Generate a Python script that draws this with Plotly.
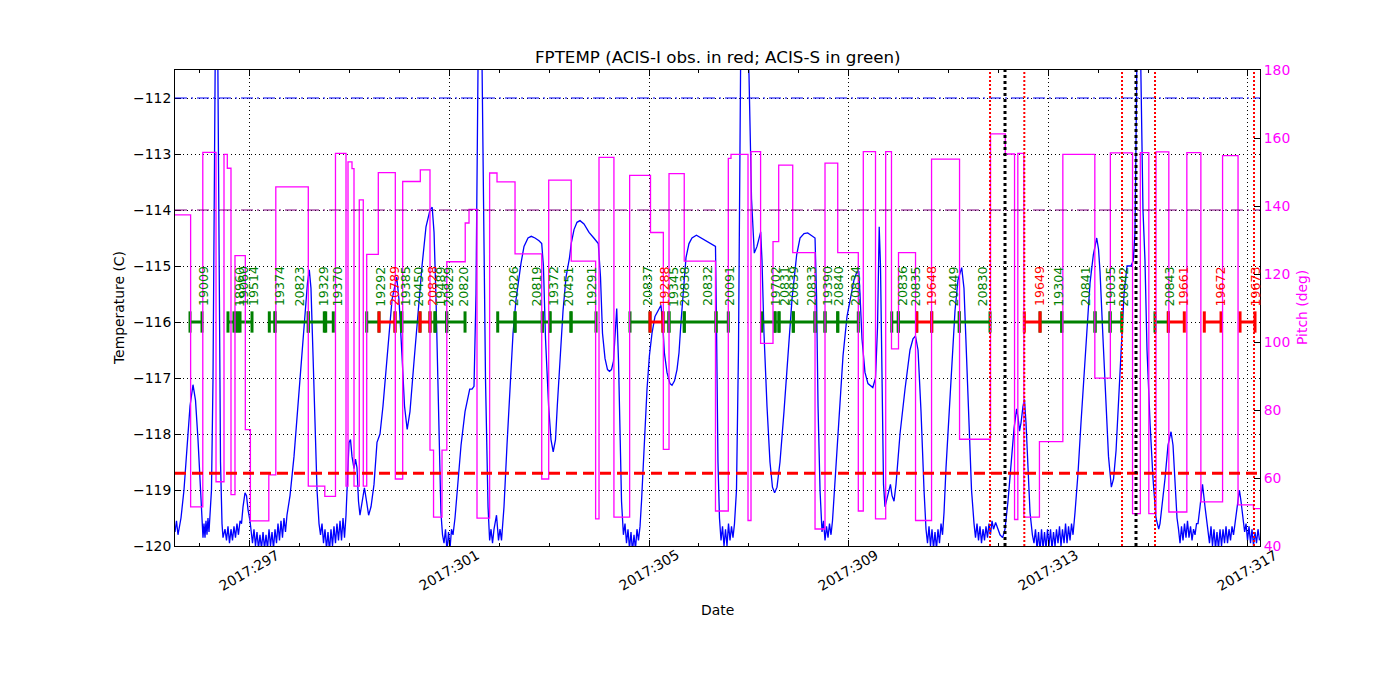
import plotly.graph_objects as go

# ---------------- data ----------------
temp_time = [
    295.500, 295.530, 295.560, 295.590, 295.620, 295.680, 295.740, 295.801, 295.861, 295.911,
    295.961, 296.001, 296.041, 296.061, 296.081, 296.101, 296.121, 296.141, 296.161, 296.181,
    296.201, 296.231, 296.262, 296.292, 296.312, 296.352, 296.382, 296.412, 296.442, 296.462,
    296.502, 296.532, 296.562, 296.592, 296.622, 296.652, 296.682, 296.712, 296.742, 296.772,
    296.803, 296.833, 296.863, 296.903, 296.933, 296.963, 297.003, 297.023,
    297.053, 297.083, 297.113, 297.143, 297.173, 297.203, 297.233, 297.264, 297.294, 297.324,
    297.354, 297.384, 297.414, 297.444, 297.474, 297.504, 297.534, 297.564, 297.594, 297.624,
    297.654, 297.684, 297.714, 297.744, 297.805, 297.885, 297.965, 298.045, 298.105, 298.155,
    298.191, 298.225, 298.266, 298.306, 298.346, 298.386, 298.416,
    298.446, 298.476, 298.506, 298.536, 298.566, 298.596, 298.626, 298.656, 298.686, 298.716,
    298.746, 298.776, 298.807, 298.837, 298.867, 298.897, 298.927, 298.957, 298.987, 299.017,
    299.047, 299.087, 299.117, 299.147, 299.177, 299.207, 299.247, 299.296, 299.338, 299.380,
    299.428, 299.488, 299.548, 299.608, 299.668, 299.769, 299.849, 299.943, 299.989, 300.049,
    300.099, 300.153, 300.209, 300.290, 300.370, 300.450, 300.530, 300.610, 300.654, 300.691,
    300.731, 300.781, 300.829, 300.861,
    300.891, 300.921, 300.951, 300.981, 301.011, 301.041, 301.071, 301.111, 301.172, 301.232,
    301.312, 301.406, 301.452, 301.492, 301.532, 301.562, 301.582, 301.642, 301.672, 301.722,
    301.773, 301.805, 301.833, 301.863, 301.893, 301.943, 301.983, 302.013, 302.043, 302.093,
    302.153, 302.213, 302.274, 302.334, 302.394, 302.434, 302.494, 302.574, 302.640, 302.714,
    302.795, 302.849, 302.883, 302.925, 302.987, 303.035, 303.079, 303.125, 303.161, 303.215,
    303.276, 303.336, 303.406, 303.440, 303.496, 303.556, 303.616, 303.696, 303.797, 303.893,
    303.937, 303.983, 304.027, 304.067, 304.117, 304.167, 304.207, 304.247, 304.287, 304.318,
    304.352, 304.388, 304.418, 304.448, 304.486,
    304.518, 304.548, 304.578, 304.608, 304.638, 304.668, 304.698, 304.728, 304.758, 304.788,
    304.819, 304.849, 304.899, 304.959, 305.007, 305.059, 305.119, 305.179, 305.239, 305.279,
    305.307, 305.359, 305.419, 305.460, 305.510, 305.560, 305.600, 305.640, 305.700, 305.740,
    305.800, 305.860, 305.949, 306.041, 306.141, 306.241, 306.331, 306.351, 306.381, 306.411,
    306.442, 306.472, 306.502, 306.532, 306.562, 306.592, 306.622, 306.652, 306.682, 306.712,
    306.752, 306.792, 306.822, 306.842, 306.953, 307.003, 307.053, 307.109, 307.163, 307.237,
    307.263, 307.303, 307.363, 307.423, 307.473, 307.516, 307.564, 307.624, 307.704, 307.784,
    307.864, 307.958, 308.025, 308.105, 308.179, 308.246, 308.326, 308.356, 308.386, 308.426,
    308.466, 308.496, 308.526, 308.556, 308.586, 308.616, 308.646, 308.676, 308.726, 308.806,
    308.887, 308.967, 309.047, 309.107, 309.167, 309.203, 309.227, 309.267, 309.327, 309.387,
    309.484, 309.538, 309.578, 309.612, 309.638, 309.668, 309.698, 309.728, 309.768, 309.809,
    309.837, 309.869, 309.909, 309.949, 310.029, 310.129, 310.229, 310.289, 310.339, 310.390,
    310.450, 310.510, 310.550,
    310.580, 310.610, 310.640, 310.670, 310.700, 310.730, 310.760, 310.790, 310.820, 310.851,
    310.881, 310.911, 310.951, 311.011, 311.071, 311.131, 311.191, 311.265, 311.311, 311.365,
    311.412, 311.462, 311.512,
    311.542, 311.572, 311.602, 311.632, 311.662, 311.692, 311.722, 311.752, 311.782, 311.812,
    311.842, 311.873, 311.903, 311.945, 311.993, 312.033, 312.085, 312.133, 312.193, 312.253,
    312.314, 312.366, 312.394, 312.424, 312.454, 312.494, 312.522, 312.554, 312.594, 312.634,
    312.682,
    312.714, 312.744, 312.775, 312.805, 312.835, 312.865, 312.895, 312.925, 312.955, 312.985,
    313.015, 313.045, 313.075, 313.105, 313.135, 313.165, 313.195, 313.225, 313.255, 313.285,
    313.316, 313.346, 313.376, 313.406, 313.436, 313.466, 313.496, 313.536, 313.596, 313.656,
    313.716, 313.776, 313.837, 313.903, 313.971, 314.007, 314.037, 314.097, 314.157, 314.207,
    314.264, 314.308, 314.358, 314.418, 314.478, 314.518, 314.578, 314.658, 314.704, 314.738,
    314.768, 314.784, 314.838, 314.868, 314.898, 314.938, 314.979, 315.039, 315.099, 315.159,
    315.213, 315.239, 315.279, 315.339, 315.400, 315.460, 315.500, 315.540, 315.580, 315.610,
    315.640, 315.670, 315.700, 315.730, 315.760, 315.790, 315.820, 315.851, 315.881, 315.911,
    315.941, 315.971, 316.001, 316.041, 316.091, 316.141, 316.197,
    316.231, 316.261, 316.291, 316.321, 316.351, 316.381, 316.411, 316.442, 316.472, 316.502,
    316.532, 316.562, 316.592, 316.622, 316.652, 316.682, 316.712, 316.742, 316.782, 316.830,
    316.862, 316.902, 316.935,
    316.963, 316.993, 317.023, 317.053, 317.083, 317.113, 317.143, 317.173, 317.203, 317.233,
]
temp_val = [
    -119.75, -119.55, -119.80, -119.60, -119.50, -119.00, -118.20, -117.50, -117.12, -117.40,
    -118.10, -118.90, -119.60, -119.85, -119.60, -119.85, -119.55, -119.80, -119.50, -119.75,
    -119.45, -119.00, -117.00, -112.50, -110.50, -110.50, -115.50, -118.50, -119.60, -119.85,
    -119.70, -119.90, -119.65, -119.95, -119.70, -119.90, -119.65, -119.85, -119.60, -119.80,
    -119.55, -119.60, -119.30, -119.05, -119.10, -119.35, -119.55, -119.70,
    -119.95, -119.70, -120.00, -119.75, -120.05, -119.80, -120.05, -119.75, -120.05, -119.80,
    -120.05, -119.70, -120.00, -119.75, -120.05, -119.70, -119.95, -119.60, -119.90, -119.55,
    -119.85, -119.50, -119.75, -119.45, -119.10, -118.40, -117.50, -116.60, -115.90, -115.30,
    -115.07, -115.40, -116.60, -118.00, -119.00, -119.60, -119.80,
    -119.60, -119.95, -119.70, -120.05, -119.75, -120.10, -119.70, -120.00, -119.65, -119.95,
    -119.60, -119.90, -119.55, -119.90, -119.50, -119.85, -119.45, -118.80, -118.15, -118.10,
    -118.40, -118.62, -118.45, -118.60, -119.20, -119.45, -119.20, -118.96, -119.20, -119.45,
    -119.30, -118.90, -118.15, -118.00, -117.50, -116.40, -115.60, -115.20, -115.60, -116.60,
    -117.50, -117.92, -117.60, -116.70, -115.80, -115.00, -114.30, -114.00, -113.95, -114.40,
    -115.60, -117.50, -119.40, -119.80,
    -119.95, -119.70, -120.10, -119.75, -120.05, -119.70, -119.80, -119.50, -118.90, -118.20,
    -117.60, -117.20, -117.20, -117.15, -115.50, -112.50, -110.50, -110.50, -113.50, -117.00,
    -119.30, -119.90, -119.70, -119.95, -119.70, -119.45, -119.90, -119.70, -119.90, -119.30,
    -118.20, -117.20, -116.20, -115.60, -115.20, -114.95, -114.65, -114.50, -114.47, -114.50,
    -114.55, -114.60, -115.00, -116.30, -117.50, -118.10, -118.32, -118.10, -117.50, -116.60,
    -115.80, -115.20, -114.85, -114.60, -114.35, -114.22, -114.19, -114.25, -114.40, -114.50,
    -114.55, -114.60, -115.20, -116.20, -116.65, -116.85, -116.88, -116.85, -116.70, -116.30,
    -115.76, -116.70, -118.00, -119.20, -119.80,
    -119.60, -119.95, -119.70, -120.05, -119.75, -120.10, -119.80, -120.05, -119.70, -119.90,
    -119.65, -119.20, -118.20, -117.20, -116.60, -116.20, -115.90, -115.80, -115.70, -116.10,
    -116.55, -116.90, -117.10, -117.13, -117.05, -116.85, -116.55, -116.00, -115.20, -114.85,
    -114.60, -114.50, -114.45, -114.50, -114.55, -114.60, -114.65, -116.00, -118.50, -119.50,
    -119.90, -119.65, -120.00, -119.70, -120.00, -119.60, -119.90, -119.65, -119.85, -119.60,
    -119.00, -116.50, -112.00, -110.50, -110.50, -111.60, -113.80, -114.77, -114.65, -114.39,
    -114.90, -116.20, -117.50, -118.50, -118.95, -119.05, -118.95, -118.50, -117.60, -116.50,
    -115.60, -114.80, -114.50, -114.42, -114.41, -114.45, -114.50, -115.50, -117.50, -119.00,
    -119.75, -119.55, -119.90, -119.65, -119.85, -119.60, -119.80, -119.55, -118.80, -117.60,
    -116.60, -115.90, -115.50, -115.25, -115.10, -115.10, -115.50, -116.30, -116.90, -117.10,
    -117.17, -117.00, -116.10, -114.30, -115.00, -117.50, -118.90, -119.30, -119.15, -118.95,
    -118.90, -119.10, -119.20, -118.90, -118.00, -117.20, -116.50, -116.30, -116.25, -116.50,
    -117.60, -119.00, -119.70,
    -119.95, -119.65, -120.00, -119.70, -120.05, -119.75, -120.05, -119.70, -119.95, -119.60,
    -119.80, -119.40, -118.60, -117.60, -116.60, -115.80, -115.25, -115.03, -115.40, -116.60,
    -117.90, -119.00, -119.60,
    -119.85, -119.60, -119.90, -119.65, -119.95, -119.70, -119.90, -119.65, -119.85, -119.60,
    -119.80, -119.55, -119.70, -119.58, -119.70, -119.80, -119.85, -119.70, -119.20, -118.60,
    -117.90, -117.55, -117.70, -117.95, -117.80, -117.50, -117.38, -117.80, -118.60, -119.40,
    -119.80,
    -119.95, -119.70, -120.05, -119.75, -120.10, -119.70, -120.05, -119.75, -120.05, -119.70,
    -120.00, -119.70, -120.05, -119.75, -120.00, -119.70, -119.95, -119.65, -120.00, -119.70,
    -119.95, -119.60, -119.95, -119.65, -119.90, -119.60, -119.80, -119.40, -118.70, -117.80,
    -116.90, -116.00, -115.30, -114.80, -114.50, -114.70, -115.10, -116.30, -117.40, -118.40,
    -118.95, -118.80, -118.30, -117.30, -116.20, -115.50, -115.00, -115.00, -114.90, -114.40,
    -112.00, -110.50, -110.50, -112.50, -114.00, -114.90, -116.50, -117.80, -118.80, -119.50,
    -119.70, -119.60, -119.30, -118.80, -118.20, -117.96, -118.20, -118.90, -119.50, -119.70,
    -119.95, -119.65, -119.90, -119.60, -119.85, -119.55, -119.85, -119.65, -119.90, -119.70,
    -119.80, -119.60, -119.60, -119.30, -118.90, -119.30, -119.75,
    -119.95, -119.65, -120.00, -119.70, -120.05, -119.75, -120.05, -119.70, -120.00, -119.70,
    -119.95, -119.65, -119.95, -119.70, -119.90, -119.65, -119.80, -119.60, -119.30, -119.00,
    -119.20, -119.55, -119.75,
    -119.60, -119.90, -119.65, -119.95, -119.70, -120.00, -119.75, -119.95, -119.70, -119.90,
]

# pitch: time at which each level starts (last entry = end of data)
pitch_time = [
    295.500, 295.813, 296.057, 296.322, 296.482, 296.548, 296.622, 296.702, 296.909, 297.011,
    297.380, 297.520, 298.171, 298.502, 298.716, 298.927, 298.967, 299.047, 299.087, 299.193,
    299.273, 299.342, 299.574, 299.915, 300.063, 300.416, 300.610, 300.681, 300.851, 300.947,
    301.316, 301.392, 301.552, 301.805, 301.953, 302.314, 302.849, 302.989, 303.440, 303.929,
    303.997, 304.296, 304.611, 305.029, 305.286, 305.400, 305.705, 306.331, 306.588, 306.642,
    306.983, 307.043, 307.235, 307.484, 307.598, 307.879, 308.326, 308.526, 308.781, 309.193,
    309.293, 309.538, 309.742, 309.858, 309.999, 310.340, 310.661, 311.222, 311.843, 312.139,
    312.324, 312.390, 312.511, 312.823, 313.292, 313.933, 314.244, 314.689, 314.845, 315.015,
    315.159, 315.416, 315.777, 316.058, 316.493, 316.803, 317.112, 317.243,
]
pitch_val = [
    137.4, 51.5, 155.8, 58.9, 155.2, 151.1, 55.1, 125.4, 74.2, 47.4,
    60.9, 145.6, 57.6, 54.6, 155.5, 57.6, 153.0, 151.0, 57.6, 141.8,
    57.6, 125.8, 149.8, 59.7, 147.2, 150.6, 68.2, 48.5, 68.2, 123.6,
    135.0, 139.0, 48.2, 149.7, 147.1, 125.9, 59.7, 147.6, 123.8, 48.0,
    154.3, 48.5, 149.0, 132.2, 68.4, 149.5, 123.8, 50.3, 154.0, 155.2,
    47.5, 156.0, 99.6, 129.5, 152.0, 126.3, 45.0, 152.6, 126.3, 50.3,
    156.0, 48.0, 156.0, 98.0, 126.3, 47.5, 153.8, 71.4, 161.2, 155.3,
    47.8, 155.5, 48.5, 70.7, 155.2, 89.4, 155.6, 49.5, 155.7, 49.5,
    155.9, 50.0, 155.7, 53.0, 154.8, 52.1, 51.0, 51.0,
]

obs_id = [
    "19009", "18960", "19060", "19514", "19374", "20823", "19329", "19370", "19292", "20789",
    "19385", "20450", "20828", "19489", "20829", "20820", "20826", "20819", "19372", "20451",
    "19291", "20837", "19288", "19345", "20838", "20832", "20091", "19702", "20831", "20839",
    "20833", "19390", "20840", "20834", "20836", "20835", "19648", "20449", "20830", "19649",
    "19304", "20841", "19035", "20842", "20843", "19661", "19672", "19673",
]
obs_start = [
    295.801, 296.562, 296.682, 296.803, 297.390, 297.504, 298.171, 298.520, 299.342, 299.588,
    299.909, 300.043, 300.410, 300.610, 300.711, 300.945, 301.967, 302.314, 302.861, 303.015,
    303.436, 304.618, 305.019, 305.279, 305.399, 305.706, 306.342, 307.257, 307.524, 307.604,
    307.891, 308.326, 308.526, 308.781, 309.863, 309.995, 310.364, 310.664, 311.217, 312.520,
    312.835, 313.270, 313.937, 314.238, 315.139, 315.406, 316.127, 316.843,
]
obs_stop = [
    296.041, 296.722, 296.763, 297.043, 297.504, 298.171, 298.492, 298.672, 299.588, 299.909,
    300.043, 300.410, 300.610, 300.711, 300.945, 301.312, 302.314, 302.861, 303.015, 303.436,
    303.937, 305.019, 305.279, 305.399, 305.706, 306.342, 306.588, 307.524, 307.604, 307.891,
    308.326, 308.526, 308.781, 309.193, 309.995, 310.364, 310.664, 311.217, 311.833, 312.835,
    313.270, 313.937, 314.238, 314.472, 315.406, 315.726, 316.462, 317.143,
]
obs_instr = [
    "S", "S", "S", "S", "S", "S", "S", "S", "S", "I",
    "S", "S", "I", "S", "S", "S", "S", "S", "S", "S",
    "S", "S", "I", "S", "S", "S", "S", "S", "S", "S",
    "S", "S", "S", "S", "S", "S", "I", "S", "S", "I",
    "S", "S", "S", "S", "S", "I", "I", "I",
]

rad_zone_times = [311.833, 312.520, 314.478, 315.139, 317.123]
perigee_times = [312.133, 314.758]

date_ticks = [297, 301, 305, 309, 313, 317]
date_labels = ["2017:297", "2017:301", "2017:305", "2017:309", "2017:313", "2017:317"]

limit_high = -112.0
limit_mid = -114.0
limit_low = -118.7
obs_level = -116.0

x_range = [295.5, 317.243]
temp_range = [-120, -111.5]
pitch_range = [40, 180]

# ---------------- figure ----------------
FONT = "DejaVu Sans"
GREEN = "#008000"
RED = "#ff0000"
MAGENTA = "#ff00ff"
TICK_SIZE = 13.9

fig = go.Figure()

fig.add_trace(go.Scatter(x=temp_time, y=temp_val, mode="lines",
                         line=dict(color="#0000ff", width=1.3), yaxis="y",
                         showlegend=False, hoverinfo="skip"))

for instr, col in (("S", GREEN), ("I", RED)):
    xs, ys = [], []
    for s, e, ins in zip(obs_start, obs_stop, obs_instr):
        if ins != instr:
            continue
        xs += [s, e, None, s, s, None, e, e, None]
        ys += [obs_level, obs_level, None,
               obs_level - 0.19, obs_level + 0.19, None,
               obs_level - 0.19, obs_level + 0.19, None]
    fig.add_trace(go.Scatter(x=xs, y=ys, mode="lines", line=dict(color=col, width=3),
                             yaxis="y", showlegend=False, hoverinfo="skip"))

fig.add_trace(go.Scatter(x=pitch_time, y=pitch_val, mode="lines", line_shape="hv",
                         line=dict(color=MAGENTA, width=1.3), yaxis="y2",
                         showlegend=False, hoverinfo="skip"))

shapes = []
for yv, col, dash, w in ((limit_high, "#0000ff", "12px,4px,2px,4px", 1),
                         (limit_mid, "#800080", "12px,4px,2px,4px", 1),
                         (limit_low, RED, "11px,6px", 3)):
    shapes.append(dict(type="line", xref="x domain", yref="y", x0=0, x1=1, y0=yv, y1=yv,
                       line=dict(color=col, width=w, dash=dash), layer="above"))
for t in rad_zone_times:
    shapes.append(dict(type="line", xref="x", yref="y domain", x0=t, x1=t, y0=0, y1=1,
                       line=dict(color=RED, width=2, dash="2px,2px"), layer="above"))
for t in perigee_times:
    shapes.append(dict(type="line", xref="x", yref="y domain", x0=t, x1=t, y0=0, y1=1,
                       line=dict(color="black", width=3, dash="3px,3px"), layer="above"))

annotations = []
for oid, s, e, ins in zip(obs_id, obs_start, obs_stop, obs_instr):
    annotations.append(dict(x=(s + e) / 2, y=-115.74, xref="x", yref="y", text=oid,
                            textangle=-90, xanchor="left", yanchor="bottom", showarrow=False,
                            xshift=-1,
                            font=dict(family=FONT, size=12.6, color=GREEN if ins == "S" else RED),
                            borderpad=0))
for tv, tl in zip(date_ticks, date_labels):
    annotations.append(dict(x=tv, y=0, xref="x", yref="paper", text=tl, textangle=-30,
                            xanchor="center", yanchor="top", yshift=2, showarrow=False,
                            font=dict(family=FONT, size=TICK_SIZE, color="black")))
annotations.append(dict(x=0.5, y=0, xref="paper", yref="paper", text="Date", yshift=-64,
                        yanchor="middle", showarrow=False,
                        font=dict(family=FONT, size=TICK_SIZE)))
annotations.append(dict(x=0, y=0.5, xref="paper", yref="paper", text="Temperature (C)",
                        textangle=-90, xshift=-56, xanchor="center", showarrow=False,
                        font=dict(family=FONT, size=TICK_SIZE)))
annotations.append(dict(x=1, y=0.5, xref="paper", yref="paper", text="Pitch (deg)",
                        textangle=-90, xshift=42, xanchor="center", showarrow=False,
                        font=dict(family=FONT, size=TICK_SIZE, color=MAGENTA)))
annotations.append(dict(x=0.5, y=1, xref="paper", yref="paper",
                        text="FPTEMP (ACIS-I obs. in red; ACIS-S in green)",
                        yanchor="bottom", yshift=1, showarrow=False,
                        font=dict(family=FONT, size=16.7, color="black")))

fig.update_layout(
    width=1400, height=700,
    margin=dict(l=167, r=148, t=62, b=162),
    paper_bgcolor="white", plot_bgcolor="white",
    font=dict(family=FONT, size=TICK_SIZE, color="black"),
    shapes=shapes, annotations=annotations,
    xaxis=dict(range=x_range, tickvals=date_ticks, showticklabels=False,
               ticks="inside", ticklen=6, tickcolor="black",
               showline=True, linecolor="black", linewidth=1, mirror="ticks",
               showgrid=True, gridcolor="black", gridwidth=1, griddash="1px,3px",
               zeroline=False,
               minor=dict(dtick=1, ticks="inside", ticklen=3, tickcolor="black", showgrid=False)),
    yaxis=dict(range=temp_range, tick0=-120, dtick=1, ticks="inside", ticklen=6,
               tickcolor="black", showline=True, linecolor="black", linewidth=1,
               showgrid=True, gridcolor="black", gridwidth=1, griddash="1px,3px",
               zeroline=False, tickfont=dict(size=TICK_SIZE)),
    yaxis2=dict(range=pitch_range, tick0=40, dtick=20, overlaying="y", side="right",
                ticks="inside", ticklen=6, tickcolor="black", showline=True,
                linecolor="black", linewidth=1, showgrid=False, zeroline=False,
                tickfont=dict(size=TICK_SIZE, color=MAGENTA)),
)

fig.write_html("out.html")
